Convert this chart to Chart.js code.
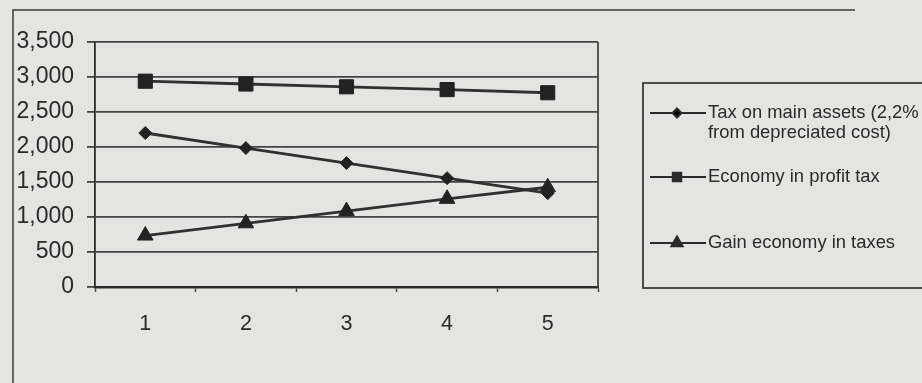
<!DOCTYPE html>
<html>
<head>
<meta charset="utf-8">
<script src="https://cdn.jsdelivr.net/npm/chart.js@4"></script>
<style>
  html, body { margin: 0; padding: 0; background: #e4e4e2; }
  #wrap { width: 922px; height: 383px; }
</style>
</head>
<body>
<div id="wrap"><canvas id="taxChart" width="922" height="383"></canvas></div>
<script>
// values
const periods = ['1', '2', '3', '4', '5'];
const taxOnAssets = [2200, 1985, 1770, 1555, 1340];
const profitTaxEconomy = [2940, 2900, 2860, 2820, 2775];
const gainEconomy = [735, 910, 1085, 1260, 1425];
const seriesLabels = [
  ['Tax on main assets (2,2%', 'from depreciated cost)'],
  ['Economy in profit tax'],
  ['Gain economy in taxes']
];
const yMax = 3500;
const yStep = 500;

(function () {
  const ink = '#2a2a2a';
  const gridInk = '#444444';
  const font = "'Liberation Sans', Arial, sans-serif";

  // plot frame (right edge) + outer figure border
  const framePlugin = {
    id: 'frame',
    beforeDraw(chart) {
      const { ctx } = chart;
      ctx.save();
      ctx.strokeStyle = '#3a3a3a';
      ctx.lineWidth = 1.5;
      ctx.beginPath();
      ctx.moveTo(13, 383);
      ctx.lineTo(13, 10);
      ctx.lineTo(855, 10);
      ctx.stroke();
      ctx.restore();
    },
    afterDatasetsDraw(chart) {
      const { ctx, chartArea: a } = chart;
      ctx.save();
      ctx.strokeStyle = gridInk;
      ctx.lineWidth = 1.8;
      ctx.beginPath();
      ctx.moveTo(a.right, a.top);
      ctx.lineTo(a.right, a.bottom);
      ctx.stroke();
      ctx.restore();
    }
  };

  // boxed legend on the right, with two-line first label
  const boxLegend = {
    id: 'boxLegend',
    afterDraw(chart) {
      const { ctx } = chart;
      const box = { x: 643, y: 83, w: 300, h: 205 };
      const rows = [113, 177, 243];
      ctx.save();
      ctx.strokeStyle = '#3a3a3a';
      ctx.lineWidth = 1.8;
      ctx.strokeRect(box.x, box.y, box.w, box.h);
      ctx.font = '18.4px ' + font;
      ctx.textBaseline = 'middle';
      chart.data.datasets.forEach((ds, i) => {
        const y = rows[i];
        ctx.strokeStyle = ink;
        ctx.lineWidth = 2;
        ctx.beginPath();
        ctx.moveTo(650, y);
        ctx.lineTo(706, y);
        ctx.stroke();
        Chart.helpers.drawPoint(ctx, {
          pointStyle: ds.pointStyle,
          radius: ds.legendRadius,
          rotation: 0,
          borderWidth: 1
        }, 677, y);
        ctx.fillStyle = ink;
        ds.label.forEach((line, j) => {
          ctx.fillText(line, 708, y + j * 19.5);
        });
      });
      ctx.restore();
    }
  };

  const canvas = document.getElementById('taxChart');
  const ctx = canvas.getContext('2d');
  ctx.fillStyle = ink;
  ctx.strokeStyle = ink;

  const mk = (label, data, style, r, lr) => ({
    label: label,
    data: data,
    pointStyle: style,
    pointRadius: r,
    pointHoverRadius: r,
    legendRadius: lr,
    borderColor: '#303030',
    borderWidth: 2.8,
    pointBackgroundColor: '#222222',
    pointBorderColor: '#222222',
    pointBorderWidth: 1,
    tension: 0,
    fill: false
  });

  new Chart(ctx, {
    type: 'line',
    data: {
      labels: periods,
      datasets: [
        mk(seriesLabels[0], taxOnAssets, 'rectRot', 6.5, 4.5),
        mk(seriesLabels[1], profitTaxEconomy, 'rect', 10, 6),
        mk(seriesLabels[2], gainEconomy, 'triangle', 9, 6.5)
      ]
    },
    options: {
      responsive: false,
      animation: false,
      devicePixelRatio: 1,
      layout: { padding: { left: 0, top: 42, right: 324, bottom: 0 } },
      scales: {
        x: {
          offset: true,
          afterFit: (s) => { s.height = 96; },
          grid: {
            offset: true,
            drawOnChartArea: false,
            drawTicks: true,
            tickLength: 5,
            tickWidth: 1.5,
            tickColor: gridInk
          },
          border: { color: '#2a2a2a', width: 2.5 },
          ticks: { color: ink, padding: 19, font: { family: font, size: 21.5 } }
        },
        y: {
          min: 0,
          max: yMax,
          afterFit: (s) => { s.width = 95; },
          grid: {
            color: gridInk,
            lineWidth: 1.8,
            drawTicks: true,
            tickLength: 8,
            tickColor: gridInk
          },
          border: { color: '#2a2a2a', width: 1.8 },
          ticks: {
            stepSize: yStep,
            color: ink,
            padding: 13,
            font: { family: font, size: 23 },
            callback: (v) => v.toLocaleString('en-US')
          }
        }
      },
      plugins: {
        legend: { display: false },
        tooltip: { enabled: false }
      }
    },
    plugins: [framePlugin, boxLegend]
  });
})();
</script>
</body>
</html>
